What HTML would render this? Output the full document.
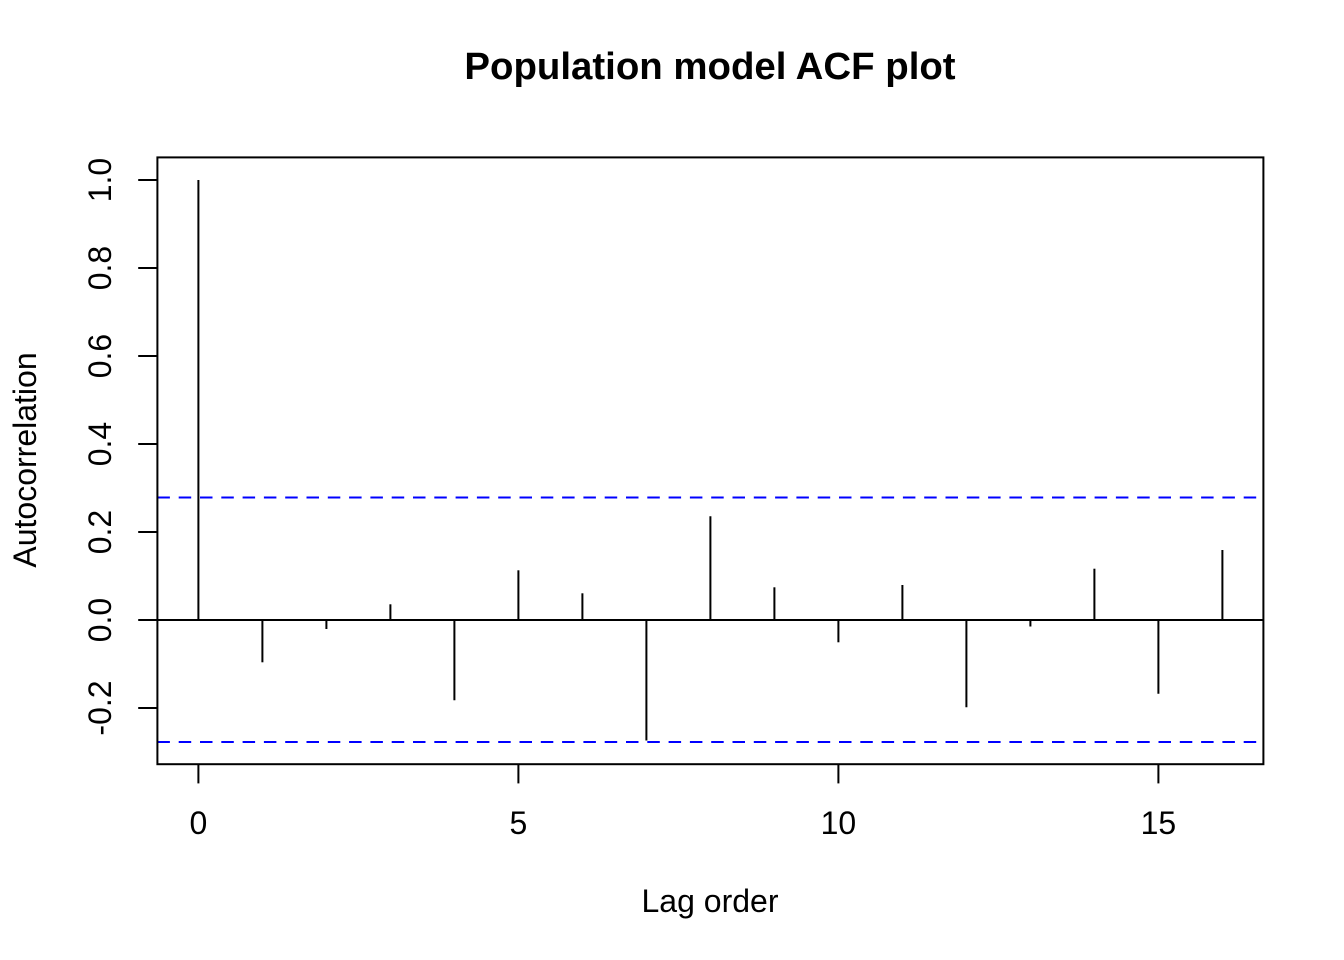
<!DOCTYPE html>
<html>
<head>
<meta charset="utf-8">
<style>
  html, body { margin: 0; padding: 0; background: #ffffff; }
  svg { display: block; }
  text { font-family: "Liberation Sans", Arial, Helvetica, sans-serif; fill: #000; }
</style>
</head>
<body>
<svg width="1344" height="960" viewBox="0 0 1344 960" xmlns="http://www.w3.org/2000/svg">
  <rect x="0" y="0" width="1344" height="960" fill="#ffffff"/>

  <!-- Title -->
  <text x="710" y="79" font-size="38.4" font-weight="bold" text-anchor="middle">Population model ACF plot</text>

  <!-- Confidence lines -->
  <g stroke="#0000FF" stroke-width="2" stroke-dasharray="12.5 8.8" fill="none">
    <line x1="157.4" y1="497.5" x2="1263.4" y2="497.5"/>
    <line x1="157.4" y1="742" x2="1263.4" y2="742"/>
  </g>

  <!-- Zero line -->
  <line x1="157.4" y1="620" x2="1263.4" y2="620" stroke="#000" stroke-width="2"/>

  <!-- ACF bars -->
  <g stroke="#000" stroke-width="2" fill="none">
    <line x1="198.4" y1="620" x2="198.4" y2="180"/>
    <line x1="262.4" y1="620" x2="262.4" y2="662.3"/>
    <line x1="326.4" y1="620" x2="326.4" y2="629"/>
    <line x1="390.4" y1="620" x2="390.4" y2="604.3"/>
    <line x1="454.4" y1="620" x2="454.4" y2="700.3"/>
    <line x1="518.4" y1="620" x2="518.4" y2="570.3"/>
    <line x1="582.4" y1="620" x2="582.4" y2="593.3"/>
    <line x1="646.4" y1="620" x2="646.4" y2="740.5"/>
    <line x1="710.4" y1="620" x2="710.4" y2="516.3"/>
    <line x1="774.4" y1="620" x2="774.4" y2="587.3"/>
    <line x1="838.4" y1="620" x2="838.4" y2="642.3"/>
    <line x1="902.4" y1="620" x2="902.4" y2="585"/>
    <line x1="966.4" y1="620" x2="966.4" y2="707.3"/>
    <line x1="1030.4" y1="620" x2="1030.4" y2="626.5"/>
    <line x1="1094.4" y1="620" x2="1094.4" y2="568.7"/>
    <line x1="1158.4" y1="620" x2="1158.4" y2="693.7"/>
    <line x1="1222.4" y1="620" x2="1222.4" y2="550"/>
  </g>

  <!-- Plot box -->
  <rect x="157.4" y="157.4" width="1106" height="606.8" fill="none" stroke="#000" stroke-width="2"/>

  <!-- X axis ticks -->
  <g stroke="#000" stroke-width="2">
    <line x1="198.4" y1="764.2" x2="198.4" y2="783.4"/>
    <line x1="518.4" y1="764.2" x2="518.4" y2="783.4"/>
    <line x1="838.4" y1="764.2" x2="838.4" y2="783.4"/>
    <line x1="1158.4" y1="764.2" x2="1158.4" y2="783.4"/>
  </g>
  <g font-size="32" text-anchor="middle">
    <text x="198.4" y="834">0</text>
    <text x="518.4" y="834">5</text>
    <text x="838.4" y="834">10</text>
    <text x="1158.4" y="834">15</text>
  </g>

  <!-- Y axis ticks -->
  <g stroke="#000" stroke-width="2">
    <line x1="138.2" y1="180" x2="157.4" y2="180"/>
    <line x1="138.2" y1="268" x2="157.4" y2="268"/>
    <line x1="138.2" y1="356" x2="157.4" y2="356"/>
    <line x1="138.2" y1="444" x2="157.4" y2="444"/>
    <line x1="138.2" y1="532" x2="157.4" y2="532"/>
    <line x1="138.2" y1="620" x2="157.4" y2="620"/>
    <line x1="138.2" y1="708" x2="157.4" y2="708"/>
  </g>
  <g font-size="32" text-anchor="middle">
    <text x="111" y="180" transform="rotate(-90 111 180)">1.0</text>
    <text x="111" y="268" transform="rotate(-90 111 268)">0.8</text>
    <text x="111" y="356" transform="rotate(-90 111 356)">0.6</text>
    <text x="111" y="444" transform="rotate(-90 111 444)">0.4</text>
    <text x="111" y="532" transform="rotate(-90 111 532)">0.2</text>
    <text x="111" y="620" transform="rotate(-90 111 620)">0.0</text>
    <text x="111" y="708" transform="rotate(-90 111 708)">-0.2</text>
  </g>

  <!-- Axis labels -->
  <text x="710" y="912" font-size="32" text-anchor="middle">Lag order</text>
  <text x="36" y="460" font-size="32" text-anchor="middle" transform="rotate(-90 36 460)">Autocorrelation</text>
</svg>
</body>
</html>
